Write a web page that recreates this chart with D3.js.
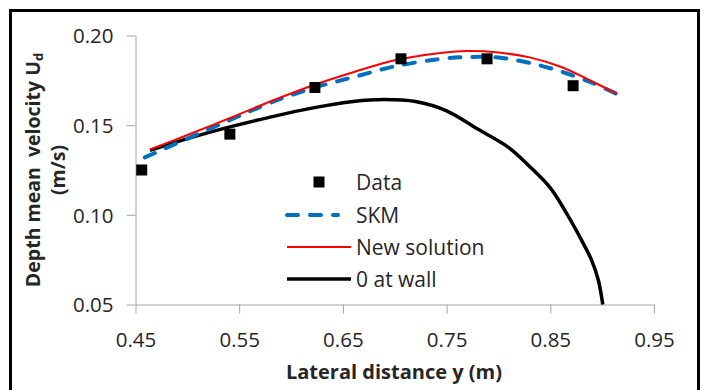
<!DOCTYPE html>
<html>
<head>
<meta charset="utf-8">
<script src="https://cdn.jsdelivr.net/npm/d3@7"></script>
<style>
  html, body { margin: 0; padding: 0; background: #fff; }
  svg { display: block; }
  text { font-family: "Open Sans", "Noto Sans", sans-serif; fill: #262626; }
</style>
</head>
<body>
<svg id="chart" width="707" height="390"></svg>
<script>
// Measured lateral velocity profile (data points)
const dataX = [0.456, 0.541, 0.623, 0.706, 0.789, 0.872];
const dataY = [0.125, 0.145, 0.171, 0.187, 0.187, 0.172];

// SKM model prediction
const skmX = [0.459, 0.500, 0.540, 0.580, 0.620, 0.660, 0.700, 0.740, 0.770, 0.800, 0.830, 0.860, 0.890, 0.914];
const skmY = [0.132, 0.1425, 0.1526, 0.1625, 0.1705, 0.1768, 0.1828, 0.1866, 0.1880, 0.1877, 0.1847, 0.1800, 0.1737, 0.1675];

// New analytical solution
const newX = [0.464, 0.500, 0.540, 0.580, 0.620, 0.660, 0.700, 0.740, 0.770, 0.800, 0.830, 0.860, 0.890, 0.914];
const newY = [0.1364, 0.1445, 0.1537, 0.1632, 0.1720, 0.1795, 0.1862, 0.1900, 0.1913, 0.1905, 0.1878, 0.1826, 0.1745, 0.1675];

// Zero-velocity-at-wall solution
const wallX = [0.464, 0.500, 0.540, 0.580, 0.620, 0.660, 0.690, 0.720, 0.750, 0.780, 0.810, 0.830, 0.850, 0.865, 0.880, 0.890, 0.8964, 0.9006];
const wallY = [0.1359, 0.1425, 0.1489, 0.1545, 0.1595, 0.1632, 0.1643, 0.1632, 0.1580, 0.1478, 0.1375, 0.1270, 0.1150, 0.1015, 0.0860, 0.0745, 0.0634, 0.050];

const xTicks = [0.45, 0.55, 0.65, 0.75, 0.85, 0.95];
const yTicks = [0.05, 0.10, 0.15, 0.20];

const svg = d3.select("#chart");

// outer frame
svg.append("rect")
  .attr("x", 10.5).attr("y", 10.5)
  .attr("width", 688).attr("height", 390)
  .attr("fill", "none").attr("stroke", "#000").attr("stroke-width", 3);

const x = d3.scaleLinear().domain([0.45, 0.95]).range([135.5, 654]);
const y = d3.scaleLinear().domain([0.05, 0.20]).range([304.5, 35.5]);

const axisColor = "#a6a6a6";

// x axis
const gx = svg.append("g").attr("transform", `translate(0,${y(0.05)})`)
  .call(d3.axisBottom(x).tickValues(xTicks).tickSize(9).tickSizeOuter(0)
        .tickFormat(d3.format(".2f")));
gx.select(".domain").attr("stroke", axisColor);
gx.selectAll(".tick line").attr("stroke", axisColor);
gx.selectAll(".tick text").attr("font-size", 20.5).attr("dy", 0).attr("y", 42)
  .attr("fill", "#262626").style("font-family", "'Open Sans', sans-serif");

// y axis
const gy = svg.append("g").attr("transform", `translate(${x(0.45)},0)`)
  .call(d3.axisLeft(y).tickValues(yTicks).tickSize(9).tickSizeOuter(0)
        .tickFormat(d3.format(".2f")));
gy.select(".domain").attr("stroke", axisColor);
gy.selectAll(".tick line").attr("stroke", axisColor);
gy.selectAll(".tick text").attr("font-size", 20.5).attr("x", -22).attr("dy", "0.35em")
  .attr("fill", "#262626").style("font-family", "'Open Sans', sans-serif");

const line = d3.line().x(d => x(d[0])).y(d => y(d[1])).curve(d3.curveCatmullRom.alpha(0.5));

const wallPts = wallX.map((v, i) => [v, wallY[i]]);
const skmPts = skmX.map((v, i) => [v, skmY[i]]);
const newPts = newX.map((v, i) => [v, newY[i]]);

svg.append("path").datum(wallPts).attr("d", line)
  .attr("fill", "none").attr("stroke", "#000").attr("stroke-width", 3.5);
svg.append("path").datum(skmPts).attr("d", line)
  .attr("fill", "none").attr("stroke", "#0070c0").attr("stroke-width", 4)
  .attr("stroke-dasharray", "11,12").attr("stroke-linecap", "round");
svg.append("path").datum(newPts).attr("d", line)
  .attr("fill", "none").attr("stroke", "#ff0000").attr("stroke-width", 2);

// data markers
const ms = 11;
svg.selectAll("rect.pt").data(dataX.map((v, i) => [v, dataY[i]])).enter()
  .append("rect").attr("class", "pt")
  .attr("x", d => x(d[0]) - ms / 2).attr("y", d => y(d[1]) - ms / 2)
  .attr("width", ms).attr("height", ms).attr("fill", "#000");

// legend
const lg = svg.append("g");
const lx0 = 287, lx1 = 351, tx = 356;
lg.append("rect").attr("x", 319 - 5.5).attr("y", 182 - 5.5).attr("width", 11).attr("height", 11).attr("fill", "#000");
lg.append("line").attr("x1", lx0).attr("x2", 338).attr("y1", 215).attr("y2", 215)
  .attr("stroke", "#0070c0").attr("stroke-width", 4).attr("stroke-dasharray", "11,12")
  .attr("stroke-linecap", "round");
lg.append("line").attr("x1", lx0).attr("x2", lx1).attr("y1", 247).attr("y2", 247)
  .attr("stroke", "#ff0000").attr("stroke-width", 2);
lg.append("line").attr("x1", lx0).attr("x2", lx1).attr("y1", 279).attr("y2", 279)
  .attr("stroke", "#000").attr("stroke-width", 3.5);
const labels = ["Data", "SKM", "New solution", "0 at wall"];
const ly = [182, 215, 247, 279];
labels.forEach((t, i) => {
  lg.append("text").attr("x", tx).attr("y", ly[i]).attr("dy", "0.36em")
    .attr("font-size", 21).text(t);
});

// axis titles
svg.append("text").attr("x", 394).attr("y", 379).attr("text-anchor", "middle")
  .attr("font-size", 20).attr("font-weight", "bold").attr("fill", "#000")
  .text("Lateral distance y (m)");

const yt = svg.append("text").attr("transform", "translate(40,170) rotate(-90)")
  .attr("text-anchor", "middle").attr("font-size", 19.5).attr("font-weight", "bold")
  .attr("fill", "#000").style("white-space", "pre");
yt.append("tspan").text("Depth mean  velocity U");
yt.append("tspan").attr("font-size", 13).attr("dy", 3).text("d");
svg.append("text").attr("transform", "translate(65,170) rotate(-90)")
  .attr("text-anchor", "middle").attr("font-size", 19.5).attr("font-weight", "bold")
  .attr("fill", "#000").text("(m/s)");
</script>
</body>
</html>
